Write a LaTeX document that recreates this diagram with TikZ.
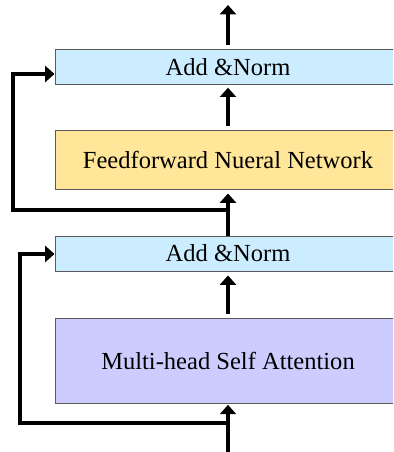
\documentclass[tikz,border=0pt]{standalone}
\usepackage{fontspec}
\setmainfont{Liberation Serif}
\usetikzlibrary{arrows.meta,positioning,calc}
\definecolor{NormBlue}{RGB}{204,236,255}
\definecolor{FFNYellow}{RGB}{255,230,153}
\definecolor{AttnPurple}{RGB}{204,204,255}
\definecolor{EdgeGray}{RGB}{90,90,90}

\begin{document}
\begin{tikzpicture}[x=0.75pt,y=-0.75pt,
  block/.style={draw=EdgeGray, line width=0.75pt, minimum width=259.5pt,
    font=\fontsize{18.4}{22}\selectfont},
  flow/.style={line width=2.4pt, -{Triangle[length=7pt,width=12pt]}}]
  \useasboundingbox (0,0) rectangle (393,452);
  \clip (0,0) rectangle (393,452);

  % Blocks
  \node[block, fill=NormBlue, minimum height=26.25pt] (addnormtop) at (228,67) {Add \&Norm};
  \node[block, fill=FFNYellow, minimum height=43.5pt] (ffn) at (228,160) {Feedforward Nueral Network};
  \node[block, fill=NormBlue, minimum height=26.25pt] (addnormbot) at (228,253.5) {Add \&Norm};
  \node[block, fill=AttnPurple, minimum height=63.75pt] (mhsa) at (228,360.5) {Multi-head Self Attention};

  % Free ends and corners
  \coordinate (out) at (228,5);
  \coordinate (in) at (228,452);
  \coordinate (branchtop) at (228,210);
  \coordinate (skiptop) at (13,74);
  \coordinate (branchbot) at (228,423);
  \coordinate (skipbot) at (20,254);

  % Main path
  \draw[flow, shorten <=3pt] (addnormtop.north) -- (out);
  \draw[flow, shorten <=3pt, shorten >=2pt] (ffn.north) -- (addnormtop.south);
  \draw[flow, shorten >=3pt] (addnormbot.north) -- (ffn.south);
  \draw[flow, shorten <=3pt, shorten >=3pt] (mhsa.north) -- (addnormbot.south);
  \draw[flow, shorten >=1pt] (in) -- (mhsa.south);

  % Residual connections
  \draw[flow] (branchtop) -| (skiptop) -- (addnormtop.west |- skiptop);
  \draw[flow] (branchbot) -| (skipbot) -- (addnormbot.west |- skipbot);
\end{tikzpicture}
\end{document}
